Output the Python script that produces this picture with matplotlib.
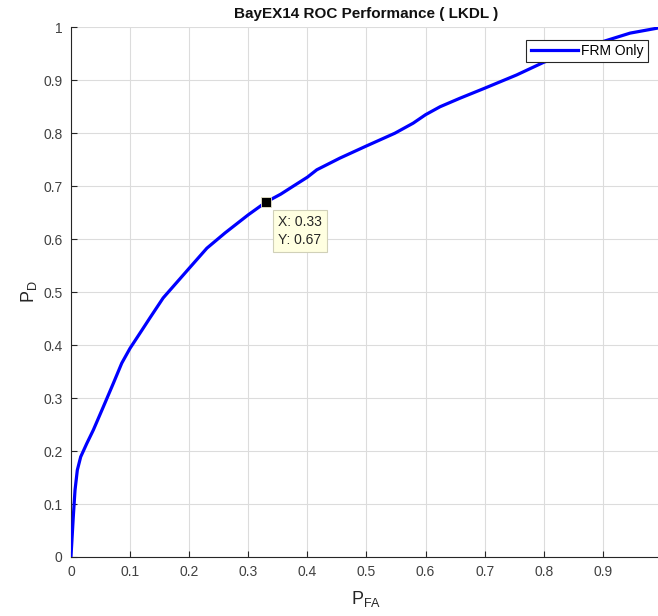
import matplotlib.pyplot as plt
from matplotlib.ticker import FuncFormatter

plt.rcParams['font.family'] = ['Liberation Sans', 'DejaVu Sans']
plt.rcParams['mathtext.fontset'] = 'custom'
plt.rcParams['mathtext.rm'] = 'Liberation Sans'

# ROC curve
p_fa = [0, 0.0014, 0.004, 0.0069, 0.0108, 0.0165, 0.0267, 0.038, 0.055, 0.0718,
        0.086, 0.10, 0.12, 0.134, 0.156, 0.20, 0.23, 0.261, 0.30, 0.33, 0.355,
        0.376, 0.40, 0.416, 0.455, 0.50, 0.548, 0.579, 0.60, 0.6245, 0.658,
        0.70, 0.754, 0.80, 0.85, 0.90, 0.946, 1.0]
p_d = [0, 0.026, 0.076, 0.126, 0.164, 0.189, 0.214, 0.240, 0.284, 0.328,
       0.366, 0.394, 0.428, 0.452, 0.489, 0.545, 0.583, 0.612, 0.646, 0.67, 0.685,
       0.700, 0.717, 0.731, 0.753, 0.776, 0.80, 0.819, 0.835, 0.850, 0.866,
       0.885, 0.910, 0.934, 0.954, 0.973, 0.989, 1.0]
tip_x, tip_y = 0.33, 0.67
x_ticks = [0, 0.1, 0.2, 0.3, 0.4, 0.5, 0.6, 0.7, 0.8, 0.9, 1.0]
y_ticks = [0, 0.1, 0.2, 0.3, 0.4, 0.5, 0.6, 0.7, 0.8, 0.9, 1.0]

fig = plt.figure(figsize=(6.58, 6.16), dpi=100)
ax = fig.add_axes([0.1078, 0.0958, 0.8983, 0.8599])

ax.plot(p_fa, p_d, color='#0000ff', linewidth=2.3, label='FRM Only', zorder=3,
        solid_joinstyle='round')

# data tip
ax.plot([tip_x], [tip_y], marker='s', color='black', markersize=7,
        markeredgecolor='#e8e4c8', markeredgewidth=0.6, zorder=5)
ax.annotate('X: %.2f\nY: %.2f' % (tip_x, tip_y), xy=(tip_x, tip_y),
            xytext=(12, -13), textcoords='offset pixels', ha='left', va='top',
            fontsize=10, color='#262626', linespacing=1.35, zorder=6,
            bbox=dict(boxstyle='square,pad=0.35', facecolor='#ffffe1',
                      edgecolor='#d0d0b8', linewidth=0.8))

ax.set_xlim(0, 1)
ax.set_ylim(0, 1)
ax.set_xticks(x_ticks)
ax.set_yticks(y_ticks)
# the x label at 1 falls past the picture's right edge
ax.xaxis.set_major_formatter(FuncFormatter(lambda v, p: '' if v >= 1 else '%g' % round(v, 2)))
ax.yaxis.set_major_formatter(FuncFormatter(lambda v, p: '%g' % round(v, 2)))

ax.grid(True, color='#dcdcdc', linewidth=0.8)
ax.set_axisbelow(True)
for s in ['top', 'right']:
    ax.spines[s].set_visible(False)
for s in ['left', 'bottom']:
    ax.spines[s].set_color('#262626')
    ax.spines[s].set_linewidth(0.8)
ax.tick_params(direction='in', length=4, width=0.8, colors='#262626',
               labelsize=10, labelcolor='#404040', pad=6)

ax.set_title('BayEX14 ROC Performance ( LKDL )', fontsize=11, fontweight='bold',
             color='#111111', pad=7)
ax.set_xlabel(r'$\mathrm{P}_{\mathrm{FA}}$', fontsize=13, color='#262626', labelpad=7)
ax.set_ylabel(r'$\mathrm{P}_{\mathrm{D}}$', fontsize=13, color='#262626', labelpad=3)

leg = ax.legend(loc='upper right', bbox_to_anchor=(0.9763, 0.9758), fontsize=10,
                fancybox=False, framealpha=1, edgecolor='#262626',
                handlelength=3.4, handletextpad=0.25, borderpad=0.3,
                borderaxespad=0)
leg.get_frame().set_linewidth(0.8)

fig.savefig('out.png', dpi=100, facecolor='white')
